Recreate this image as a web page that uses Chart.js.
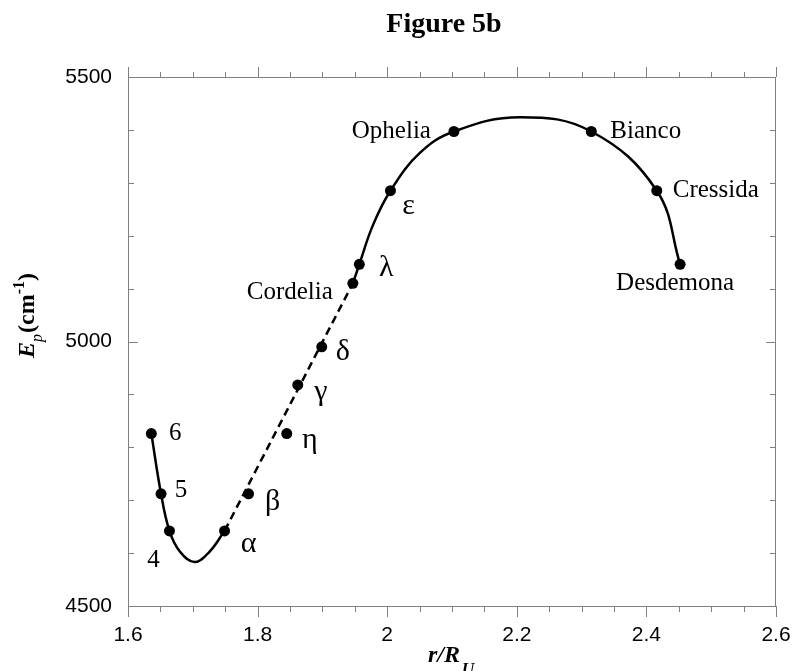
<!DOCTYPE html>
<html>
<head>
<meta charset="utf-8">
<script src="https://cdn.jsdelivr.net/npm/chart.js@4.4.1/dist/chart.umd.min.js"></script>
<style>
  html, body { margin: 0; padding: 0; background: #fff; }
  #wrap { width: 792px; height: 671px; }
</style>
</head>
<body>
<div id="wrap"><canvas id="fig5b" width="792" height="671"></canvas></div>
<script>
// moons / rings and their values
var moonNames = ['6', '5', '4', '\u03b1', '\u03b2', '\u03b7', '\u03b3', '\u03b4', 'Cordelia', '\u03bb', '\u03b5', 'Ophelia', 'Bianco', 'Cressida', 'Desdemona'];
var moonR = [1.636, 1.651, 1.664, 1.749, 1.786, 1.845, 1.862, 1.899, 1.947, 1.957, 2.005, 2.103, 2.315, 2.416, 2.452];
var moonE = [4826, 4712, 4642, 4642, 4712, 4826, 4918, 4990, 5110, 5146, 5285, 5397, 5397, 5285, 5146];

// curves
var innerR = [1.636, 1.651, 1.664, 1.680, 1.703, 1.726, 1.749];
var innerE = [4826, 4712, 4642, 4603, 4583, 4603, 4642];
var dashR = [1.749, 1.947];
var dashE = [4642, 5110];
var outerR = [1.947, 1.957, 1.978, 2.005, 2.050, 2.103, 2.205, 2.315, 2.416, 2.452];
var outerE = [5110, 5146, 5220, 5285, 5356, 5397, 5424, 5397, 5285, 5146];

var xTickLabels = [1.6, 1.8, 2.0, 2.2, 2.4, 2.6];
var yTickLabels = [4500, 5000, 5500];

// label placement (pixel offsets from each point) - style only
var labelDx = [24, 20, -16, 24, 24, 23, 23, 21, -20, 27, 18, -23, 19, 16, -5];
var labelDy = [0, -3, 30, 13, 8, 7, 7, 5, 9, 4, 15, 0, 0, 0, 19];
var labelAlign = ['center', 'center', 'center', 'center', 'center', 'center', 'center', 'center', 'right', 'center', 'center', 'right', 'left', 'left', 'center'];

function toXY(xs, ys) {
  return xs.map(function (x, i) {
    return { x: x, y: ys[i] };
  });
}

var serif = '"Liberation Serif", "Times New Roman", serif';
var axisGray = '#808080';

var extras = {
  id: 'extras',
  afterDraw: function (chart) {
    var ctx = chart.ctx;
    var xs = chart.scales.x, ys = chart.scales.y;
    var a = chart.chartArea;
    ctx.save();

    // frame (top, right)
    ctx.strokeStyle = axisGray;
    ctx.lineWidth = 1;
    ctx.beginPath();
    ctx.moveTo(a.left, a.top + 0.5);
    ctx.lineTo(a.right, a.top + 0.5);
    ctx.moveTo(a.right - 0.5, a.top);
    ctx.lineTo(a.right - 0.5, a.bottom);
    ctx.stroke();

    // x ticks: outward on bottom and top
    ctx.beginPath();
    for (var i = 0; i <= 20; i++) {
      var px = Math.round(xs.getPixelForValue(1.6 + i * 0.05)) + 0.5;
      var len = (i % 4 === 0) ? 11 : 6;
      var lenTop = (i % 4 === 0) ? 10 : 5;
      ctx.moveTo(px, a.bottom);
      ctx.lineTo(px, a.bottom + len);
      ctx.moveTo(px, a.top);
      ctx.lineTo(px, a.top - lenTop);
    }
    // y ticks: inward on left and right
    for (var j = 0; j <= 10; j++) {
      var py = Math.round(ys.getPixelForValue(4500 + j * 100)) + 0.5;
      var l2 = (j % 5 === 0) ? 10 : 6;
      ctx.moveTo(a.left, py);
      ctx.lineTo(a.left + l2, py);
      ctx.moveTo(a.right, py);
      ctx.lineTo(a.right - l2, py);
    }
    ctx.stroke();

    // point labels
    ctx.fillStyle = '#000';
    ctx.textBaseline = 'middle';
    moonNames.forEach(function (name, k) {
      var isGreek = /[\u0370-\u03ff]/.test(name);
      ctx.font = (isGreek ? '30px ' : '25px ') + serif;
      ctx.textAlign = labelAlign[k];
      ctx.fillText(name,
        xs.getPixelForValue(moonR[k]) + labelDx[k],
        ys.getPixelForValue(moonE[k]) + labelDy[k]);
    });

    // title
    ctx.textAlign = 'center';
    ctx.textBaseline = 'alphabetic';
    ctx.font = 'bold 28px ' + serif;
    ctx.fillText('Figure 5b', 444, 32);

    // x title r/R_U
    ctx.font = 'italic bold 24px ' + serif;
    ctx.textAlign = 'left';
    var xt = 'r/R';
    var wx = ctx.measureText(xt).width;
    var x0 = 447 - wx / 2 - 3;
    ctx.fillText(xt, x0, 662);
    ctx.font = 'italic bold 17px ' + serif;
    ctx.fillText('U', x0 + wx + 2, 674);

    // y title E_p (cm^-1)
    ctx.translate(34, 358);
    ctx.rotate(-Math.PI / 2);
    var cx = 0;
    ctx.font = 'italic bold 24px ' + serif;
    ctx.fillText('E', cx, 0);
    cx += ctx.measureText('E').width;
    ctx.font = 'italic 16px ' + serif;
    ctx.fillText('p', cx, 8);
    cx += ctx.measureText('p').width + 1;
    ctx.font = 'bold 24px ' + serif;
    ctx.fillText('(cm', cx, 0);
    cx += ctx.measureText('(cm').width;
    ctx.font = 'bold 16px ' + serif;
    ctx.fillText('-1', cx, -10);
    cx += ctx.measureText('-1').width;
    ctx.font = 'bold 24px ' + serif;
    ctx.fillText(')', cx, 0);

    ctx.restore();
  }
};

Chart.defaults.font.family = '"Liberation Sans", Arial, sans-serif';
Chart.defaults.font.size = 21;
Chart.defaults.color = '#000';

var lineStyle = {
  showLine: true,
  pointRadius: 0,
  borderColor: '#000',
  borderWidth: 2.5,
  fill: false,
  tension: 0.4
};

new Chart(document.getElementById('fig5b').getContext('2d'), {
  type: 'scatter',
  data: {
    datasets: [
      Object.assign({ data: toXY(innerR, innerE) }, lineStyle),
      Object.assign({ data: toXY(dashR, dashE), borderDash: [8, 5] }, lineStyle),
      Object.assign({ data: toXY(outerR, outerE) }, lineStyle),
      {
        data: toXY(moonR, moonE),
        showLine: false,
        pointRadius: 5.5,
        pointBackgroundColor: '#000',
        pointBorderColor: '#000',
        pointBorderWidth: 0
      }
    ]
  },
  options: {
    responsive: false,
    animation: false,
    layout: { padding: { top: 77, right: 16, left: 0, bottom: 0 } },
    plugins: {
      legend: { display: false },
      tooltip: { enabled: false }
    },
    scales: {
      x: {
        type: 'linear',
        min: 1.6,
        max: 2.6,
        afterFit: function (s) {
          s.height = 65;
          s.paddingLeft = 0;
          s.paddingRight = 0;
        },
        afterBuildTicks: function (s) {
          s.ticks = xTickLabels.map(function (v) { return { value: v }; });
        },
        ticks: {
          padding: 9,
          maxRotation: 0,
          callback: function (v) { return String(+(+v).toFixed(1)); }
        },
        grid: { display: false },
        border: { display: true, color: axisGray, width: 1 }
      },
      y: {
        type: 'linear',
        min: 4500,
        max: 5500,
        afterFit: function (s) {
          s.width = 128;
          s.paddingTop = 0;
          s.paddingBottom = 0;
        },
        afterBuildTicks: function (s) {
          s.ticks = yTickLabels.map(function (v) { return { value: v }; });
        },
        ticks: {
          padding: 8,
          callback: function (v) { return String(v); }
        },
        grid: { display: false },
        border: { display: true, color: axisGray, width: 1 }
      }
    }
  },
  plugins: [extras]
});
</script>
</body>
</html>
